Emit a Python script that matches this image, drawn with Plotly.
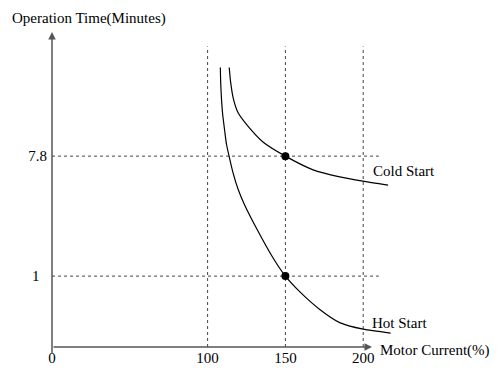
import plotly.graph_objects as go

hot_current = [108.2, 108.4, 108.9, 109.7, 111.0, 112.1, 113.8, 116.4, 119.6, 123.5,
               131.4, 142.0, 150.0, 159.5, 172.5, 184.9, 200.0, 217.6]
hot_time = [35.6, 27.7, 21.0, 15.9, 12.0, 9.6, 7.8, 5.83, 4.42, 3.44,
            2.27, 1.37, 1.0, 0.76, 0.56, 0.451, 0.403, 0.377]

cold_current = [113.9, 114.8, 116.5, 119.7, 125.1, 135.8, 150.0, 167.8, 184.9, 199.7, 216.0]
cold_time = [35.6, 27.7, 21.0, 16.3, 13.4, 9.9, 7.8, 6.17, 5.47, 5.08, 4.75]

marked_current = [150, 150]
marked_time = [7.8, 1]

x_ticks = [0, 100, 150, 200]
y_ticks = [1, 7.8]

FONT = "Liberation Serif"
x_range = [0, 250]
y_range = [-0.527, 1.830]  # log10
guide_top = 51
guide_right = 210

# plot area in page pixels (page body adds 8px around the figure)
PX_L, PX_B, PX_W, PX_H = 52, 355, 389, 325


def px(x, y):
    return (x - PX_L) / PX_W, (PX_B - y) / PX_H


fig = go.Figure()

dot = dict(color="#444", width=1, dash="dot")
for xv in x_ticks[1:]:
    fig.add_trace(go.Scatter(x=[xv, xv], y=[10 ** y_range[0], guide_top], mode="lines",
                             line=dot, hoverinfo="skip"))
for yv in y_ticks:
    fig.add_trace(go.Scatter(x=[0, guide_right], y=[yv, yv], mode="lines",
                             line=dot, hoverinfo="skip"))

curve = dict(color="black", width=1.2, shape="spline", smoothing=0.6)
fig.add_trace(go.Scatter(x=hot_current, y=hot_time, mode="lines", line=curve))
fig.add_trace(go.Scatter(x=cold_current, y=cold_time, mode="lines", line=curve))
fig.add_trace(go.Scatter(x=marked_current, y=marked_time, mode="markers",
                         marker=dict(color="black", size=8)))

# axes drawn as arrows
fig.add_annotation(x=0, y=px(0, 32)[1], xref="paper", yref="paper", ax=0, ay=323,
                   showarrow=True, arrowhead=2, arrowsize=1, arrowwidth=1.5,
                   arrowcolor="#555", text="")
fig.add_annotation(x=px(372, 0)[0], y=0, xref="paper", yref="paper", ax=-320, ay=0,
                   showarrow=True, arrowhead=2, arrowsize=1, arrowwidth=1.5,
                   arrowcolor="#555", text="")

labels = [
    ("Operation Time(Minutes)", 10, 18),
    ("Motor Current(%)", 378, 359),
    ("Cold Start", 371, 175),
    ("Hot Start", 370, 330),
]
for txt, lx, ly in labels:
    ax_, ay_ = px(lx, ly)
    fig.add_annotation(x=ax_, y=ay_, xref="paper", yref="paper", text=txt,
                       showarrow=False, xanchor="left", yanchor="middle")

fig.update_layout(
    width=493, height=370,
    margin=dict(l=44, r=60, t=22, b=23),
    plot_bgcolor="white", paper_bgcolor="white",
    showlegend=False,
    font=dict(family=FONT, size=15, color="black"),
    xaxis=dict(range=x_range, tickvals=x_ticks, ticktext=[str(v) for v in x_ticks],
               showgrid=False, zeroline=False, showline=False, ticks=""),
    yaxis=dict(type="log", range=y_range, tickvals=y_ticks, ticktext=["1\u2002", "7.8"],
               showgrid=False, zeroline=False, showline=False, ticks="",
               ticklabelstandoff=4),
)

fig.write_html("out.html")
